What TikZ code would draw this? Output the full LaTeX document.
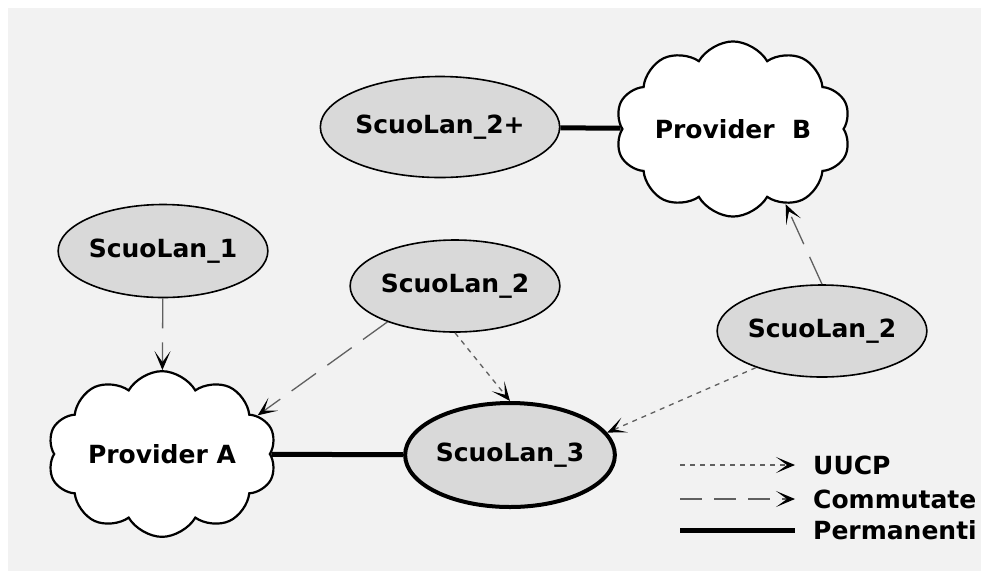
\documentclass[tikz,border=0pt]{standalone}
\usepackage{fontspec}
\setmainfont{DejaVu Sans}
\usepackage{tikz}
\usepackage{xcolor}
\usetikzlibrary{shapes.geometric,shapes.symbols,arrows.meta,positioning}
\definecolor{panelgray}{HTML}{F2F2F2}
\definecolor{lanfill}{HTML}{D9D9D9}
\definecolor{linkgray}{HTML}{606060}
\tikzset{
    lan-node/.style = {draw=black, fill=lanfill, ellipse, line width=1.6pt, inner sep=0pt, font=\fontsize{25}{28}\selectfont\bfseries},
    provider-cloud/.style = {draw=black, fill=white, cloud, cloud puffs=10, cloud puff arc=120, aspect=1.55, line width=2.2pt, inner sep=0pt, font=\fontsize{25}{28}\selectfont\bfseries},
    uucp-link/.style = {draw=linkgray, line width=1.3pt, dash pattern=on 5pt off 5pt, -{Stealth[length=19pt, width=16pt, inset=11pt, black]}},
    dial-link/.style = {draw=linkgray, line width=1.3pt, dash pattern=on 30pt off 14pt, -{Stealth[length=19pt, width=16pt, inset=11pt, black]}},
    perm-link/.style = {draw=black, line width=5pt},
    legend-text/.style = {inner sep=0pt, anchor=west, font=\fontsize{25}{28}\selectfont\bfseries},
}
\begin{document}
\begin{tikzpicture}[x=1pt, y=-1pt]
\useasboundingbox (0,0) rectangle (981,571);
\clip (0,0) rectangle (981,571);
\fill[panelgray] (8,8) rectangle (981,571);

% providers
\node [provider-cloud, minimum width=229pt, minimum height=144pt] (a) at (162,454) {Provider A};
\node [provider-cloud, minimum width=232pt, minimum height=150pt] (b) at (733,129) {Provider~~B};

% school networks
\node [lan-node, minimum width=190pt, minimum height=93pt] (lan1) at (163,251) {ScuoLan\_1};
\node [lan-node, minimum width=190pt, minimum height=92pt] (lan2) at (455,286) {ScuoLan\_2};
\node [lan-node, line width=4pt, minimum width=206pt, minimum height=104pt] (lan3) at (510,455) {ScuoLan\_3};
\node [lan-node, minimum width=205pt, minimum height=101pt] (lan2p) at (440,127) {ScuoLan\_2+};
\node [lan-node, minimum width=189pt, minimum height=92pt] (lan2r) at (822,331) {ScuoLan\_2};

% links
\draw [perm-link] (a) -- (lan3);
\draw [perm-link] (lan2p) -- (b);
\draw [dial-link] (lan1) -- (a);
\draw [dial-link] (lan2.208) -- (a.22);
\draw [uucp-link] (lan2.south) -- (lan3.north);
\draw [dial-link] (lan2r.north) -- (b.-55);
\draw [uucp-link] (lan2r.209) -- (lan3.13);

% legend
\coordinate (k1) at (680,465);
\coordinate (k1e) at (795,465);
\coordinate (k2) at (680,499);
\coordinate (k2e) at (795,499);
\coordinate (k3) at (680,530);
\coordinate (k3e) at (795,530);
\draw [uucp-link] (k1) -- (k1e);
\draw [dial-link, dash pattern=on 22pt off 12pt] (k2) -- (k2e);
\draw [perm-link] (k3) -- (k3e);
\node [legend-text, right=18pt of k1e] (l1) {UUCP};
\node [legend-text, right=18pt of k2e] (l2) {Commutate};
\node [legend-text, right=18pt of k3e] (l3) {Permanenti};
\end{tikzpicture}
\end{document}
